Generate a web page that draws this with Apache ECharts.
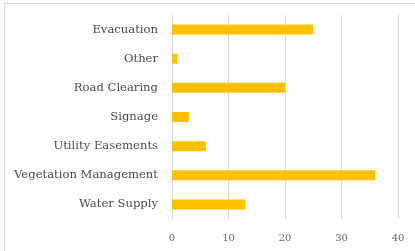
<!DOCTYPE html>
<html>
<head>
<meta charset="utf-8">
<script src="https://cdn.jsdelivr.net/npm/echarts@6/dist/echarts.min.js"></script>
<style>
html, body { margin: 0; padding: 0; background: #fff; }
#chart { width: 415px; height: 251px; }
</style>
</head>
<body>
<div id="chart"></div>
<script>
// categories and counts
var categories = ['Evacuation', 'Other', 'Road Clearing', 'Signage', 'Utility Easements', 'Vegetation Management', 'Water Supply']
var counts = [25, 1, 20, 3, 6, 36, 13]
var xTicks = [0, 10, 20, 30, 40]

var option = {
    animation: false,
    backgroundColor: '#fff',
    grid: {
        left: 172,
        right: 17,
        top: 15,
        bottom: 32
    },
    xAxis: {
        type: 'value',
        min: xTicks[0],
        max: xTicks[xTicks.length - 1],
        interval: 10,
        axisLine: { show: false },
        axisTick: { show: false },
        axisLabel: {
            color: '#666',
            fontFamily: 'DejaVu Serif',
            fontSize: 10,
            margin: 14
        },
        splitLine: { lineStyle: { color: '#d9d9d9', width: 1 } }
    },
    yAxis: {
        type: 'category',
        inverse: true,
        data: categories,
        axisLine: { show: false },
        axisTick: { show: false },
        axisLabel: {
            color: '#4a4a4a',
            fontFamily: 'DejaVu Serif',
            fontSize: 11.6,
            margin: 14
        }
    },
    graphic: [{
        type: 'rect',
        shape: { x: 4.5, y: 3.5, width: 420, height: 260 },
        style: { fill: 'none', stroke: '#d9d9d9', lineWidth: 1 }
    }],
    series: [{
        type: 'bar',
        data: counts,
        barWidth: 10,
        itemStyle: { color: '#FFC000' }
    }]
};

var chart = echarts.init(document.getElementById('chart'), null, {renderer: 'canvas'});
chart.setOption(option);
</script>
</body>
</html>
